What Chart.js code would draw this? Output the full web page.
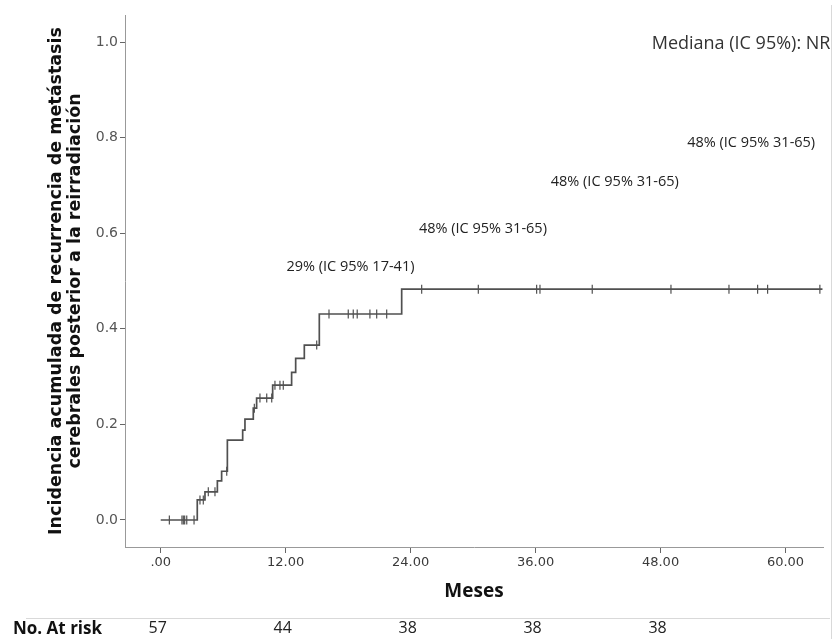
<!DOCTYPE html>
<html>
<head>
<meta charset="utf-8">
<script src="https://cdn.jsdelivr.net/npm/chart.js@4.4.0/dist/chart.umd.min.js"></script>
<style>
  html, body { margin: 0; padding: 0; background: #fff; }
  #wrap { width: 838px; height: 639px; }
</style>
</head>
<body>
<div id="wrap"><canvas id="km"></canvas></div>
<script>
// step curve: time (months) and cumulative incidence from that time on
var curveTimes  = [0, 3.51, 4.25, 5.44, 5.85, 6.40, 7.87, 8.09, 8.89, 9.21, 10.75, 12.57, 12.96, 13.79, 15.23, 23.14, 63.55];
var curveValues = [0, 0.042, 0.059, 0.082, 0.102, 0.167, 0.188, 0.211, 0.234, 0.255, 0.282, 0.309, 0.338, 0.366, 0.431, 0.483, 0.483];

// censored patients (months)
var censorTimes = [0.83, 2.04, 2.17, 2.30, 2.50, 3.20, 3.77, 4.09, 4.57, 5.21, 6.34, 8.99,
  9.53, 10.18, 10.66, 10.97, 11.45, 11.77, 14.98,
  16.16, 18.01, 18.49, 18.87, 20.09, 20.74, 21.70,
  25.06, 30.50, 36.10, 36.42, 41.44, 49.00, 54.57, 57.32, 58.28, 63.30];

var riskTimes  = [0, 12, 24, 36, 48];
var riskCounts = [57, 44, 38, 38, 38];

var noteTexts  = ['29% (IC 95% 17-41)', '48% (IC 95% 31-65)', '48% (IC 95% 31-65)', '48% (IC 95% 31-65)'];
var noteTimes  = [18.22, 30.94, 43.60, 56.70];
var noteValues = [0.529, 0.609, 0.707, 0.789];

var medianText = 'Mediana (IC 95%): NR';

function valueAt(t) {
  var v = curveValues[0];
  for (var i = 0; i < curveTimes.length; i++) {
    if (curveTimes[i] <= t) v = curveValues[i];
  }
  return v;
}

var curvePts = curveTimes.map(function(t, i) { return {x: t, y: curveValues[i]}; });
var censorPts = censorTimes.map(function(t) { return {x: t, y: valueAt(t)}; });

var extras = {
  id: 'extras',
  beforeDraw: function(chart) {
    var c = chart.ctx;
    c.save();
    c.strokeStyle = '#d9d9d9';
    c.lineWidth = 1;
    c.beginPath();
    c.moveTo(831.5, 5); c.lineTo(831.5, 639);
    c.moveTo(26, 618.5); c.lineTo(830, 618.5);
    c.stroke();
    c.restore();
  },
  afterDraw: function(chart) {
    var c = chart.ctx;
    var xs = chart.scales.x, ys = chart.scales.y;
    c.save();
    c.textBaseline = 'middle';
    c.fillStyle = '#222';
    c.font = '14.5px "Open Sans"';
    c.textAlign = 'center';
    noteTexts.forEach(function(txt, i) {
      c.fillText(txt, xs.getPixelForValue(noteTimes[i]), ys.getPixelForValue(noteValues[i]));
    });
    c.textAlign = 'left';
    c.font = '18px "Open Sans"';
    c.fillStyle = '#333';
    c.fillText(medianText, xs.getPixelForValue(47.15), ys.getPixelForValue(0.996));

    // number at risk row
    c.fillStyle = '#111';
    c.font = 'bold 17px "Open Sans"';
    c.fillText('No. At risk', 13, 629);
    c.font = '16px "Open Sans"';
    c.textAlign = 'center';
    c.fillStyle = '#222';
    riskTimes.forEach(function(t, i) {
      c.fillText(String(riskCounts[i]), xs.getPixelForValue(t) - 3, 628);
    });
    c.restore();
  }
};

new Chart(document.getElementById('km'), {
  type: 'scatter',
  data: {
    datasets: [{
      data: curvePts,
      showLine: true,
      stepped: 'before',
      borderColor: '#505050',
      borderWidth: 1.7,
      pointRadius: 0
    }, {
      data: censorPts,
      showLine: false,
      pointStyle: 'line',
      rotation: 90,
      pointRadius: 4.5,
      borderColor: '#505050',
      borderWidth: 1.2
    }]
  },
  options: {
    responsive: true,
    maintainAspectRatio: false,
    animation: false,
    layout: { padding: { left: 0, right: 15, top: 15, bottom: 36 } },
    plugins: { legend: { display: false }, tooltip: { enabled: false } },
    scales: {
      x: {
        type: 'linear',
        min: -3.43,
        max: 63.6,
        afterFit: function(s) { s.height = 56; },
        border: { color: '#999', width: 1 },
        grid: { drawOnChartArea: false, tickLength: 6, color: '#666' },
        ticks: {
          stepSize: 12,
          includeBounds: false,
          autoSkip: false,
          maxRotation: 0,
          color: '#3a3a3a',
          font: { family: 'DejaVu Sans', size: 13 },
          padding: 2,
          callback: function(v) { return v === 0 ? '.00' : v.toFixed(2); }
        },
        title: {
          display: true,
          text: 'Meses',
          color: '#111',
          font: { family: 'Open Sans', size: 19, weight: 'bold' },
          padding: { top: 0, bottom: 0 }
        }
      },
      y: {
        min: -0.0565,
        max: 1.0565,
        afterFit: function(s) { s.width = 125; },
        border: { color: '#999', width: 1 },
        grid: { drawOnChartArea: false, tickLength: 5, color: '#666' },
        ticks: {
          stepSize: 0.2,
          includeBounds: false,
          color: '#555',
          font: { family: 'DejaVu Sans', size: 14 },
          padding: 2,
          callback: function(v) { return v.toFixed(1); }
        },
        title: {
          display: true,
          text: ['Incidencia acumulada de recurrencia de metástasis', 'cerebrales posterior a la reirradiación'],
          color: '#111',
          font: { family: 'DejaVu Sans', size: 17.5, weight: 'bold', lineHeight: 1.086 },
          padding: { top: 46.5, bottom: 0 }
        }
      }
    }
  },
  plugins: [extras]
});
</script>
</body>
</html>
